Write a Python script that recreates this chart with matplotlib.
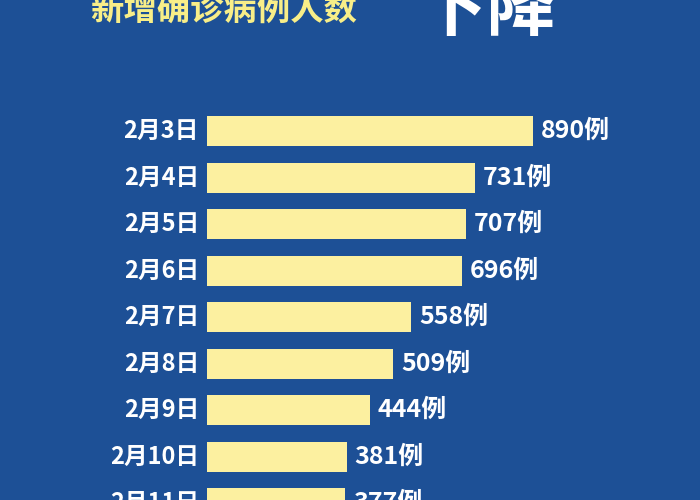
import matplotlib
matplotlib.use("Agg")
import matplotlib.pyplot as plt

dates = ["2月3日", "2月4日", "2月5日", "2月6日", "2月7日", "2月8日", "2月9日", "2月10日", "2月11日"]
values = [890, 731, 707, 696, 558, 509, 444, 381, 377]
title = "新增确诊病例人数"

plt.rcParams["font.family"] = "Noto Sans CJK SC"
fig = plt.figure(figsize=(7, 5), dpi=100)
fig.patch.set_facecolor("#1d5096")
ax = fig.add_axes([0, 0, 1, 1])
ax.set_facecolor("#1d5096")
ppu = 326 / 890.0
ax.set_xlim(-207 / ppu, (700 - 207) / ppu)
y0, dy = 131, 46.5
ax.set_ylim((500 - y0) / dy, -y0 / dy)
ax.axis("off")

ys = list(range(len(values)))
ax.barh(ys, values, height=30 / dy, color="#fcf0a0", edgecolor="none")
for y, d, v in zip(ys, dates, values):
    ax.text(-8 / ppu, y, d, ha="right", va="center", color="white", fontsize=17, fontweight="bold")
    ax.text(v + 8 / ppu, y, f"{v}例", ha="left", va="center", color="white", fontsize=18, fontweight="bold")

ax.text(-117 / ppu, -y0 / dy + 10 / dy, title, ha="left", va="center", color="#f8ee88",
        fontsize=24, fontweight="black")
ax.text(210 / ppu, -y0 / dy + 10 / dy, "下降", ha="left", va="center", color="white",
        fontsize=50, fontweight="bold")
fig.savefig("out.png", dpi=100, facecolor=fig.get_facecolor())
